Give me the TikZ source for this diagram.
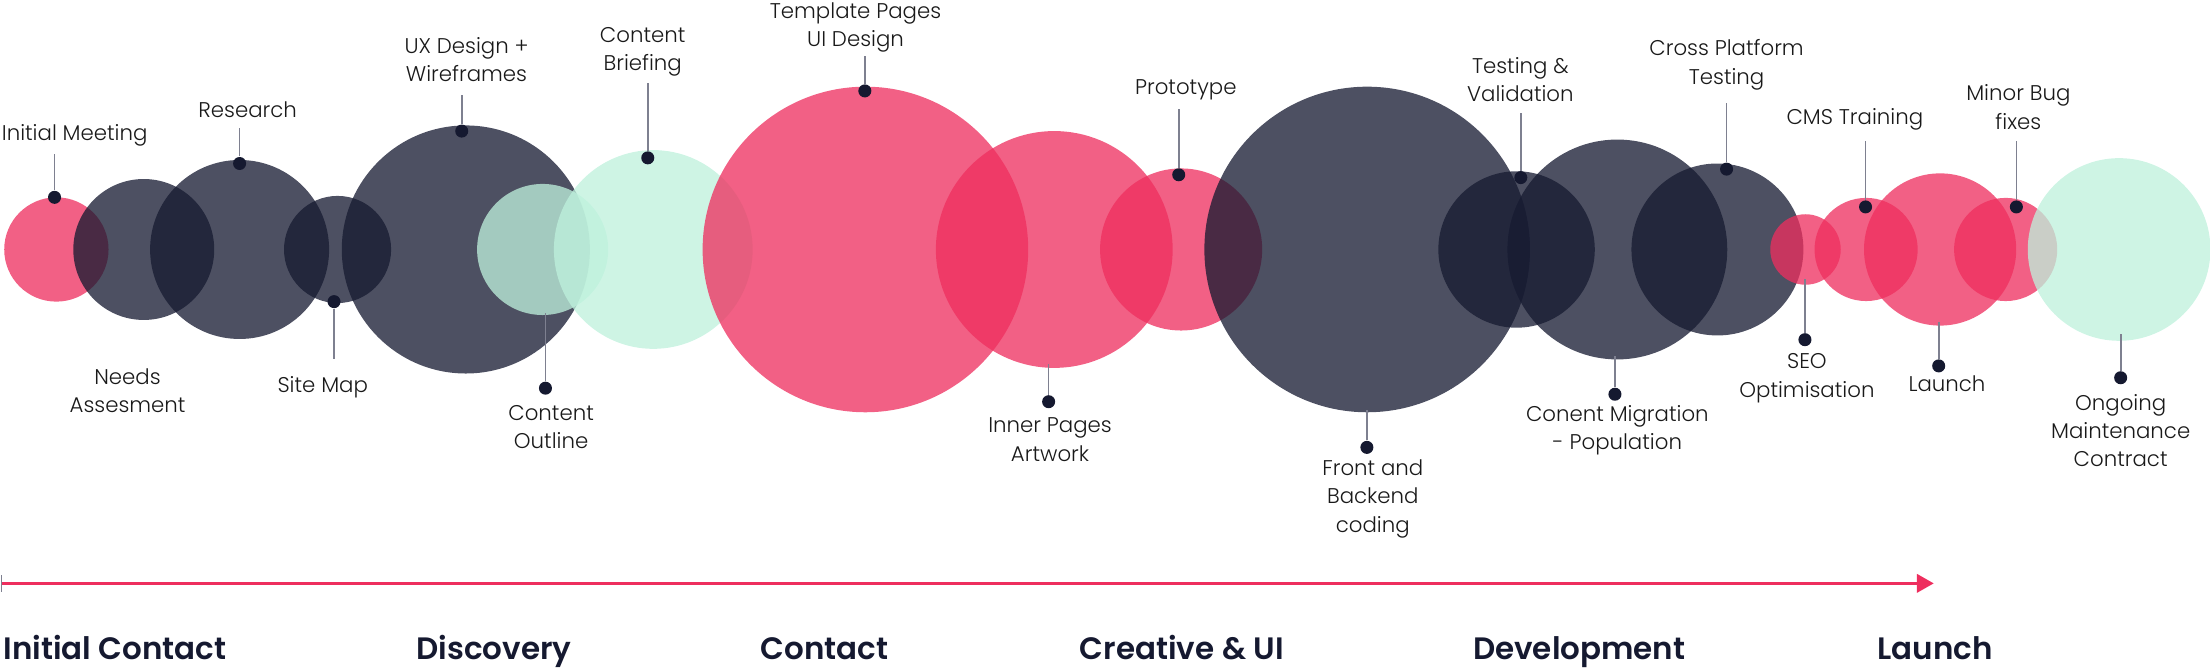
\documentclass[tikz,border=0pt]{standalone}
\usepackage{fontspec}
\setmainfont{Poppins Light}[BoldFont = Poppins SemiBold]
\usetikzlibrary{arrows.meta}

\definecolor{rose}{RGB}{238,46,94}
\definecolor{ink}{RGB}{21,25,48}
\definecolor{mint}{RGB}{190,241,220}
\definecolor{leader}{RGB}{126,128,144}

\begin{document}
\begin{tikzpicture}[x = 0.2mm, y = 0.2mm,
	ball/.style = {circle, inner sep = 0pt, fill opacity = 0.76, minimum size = #1*0.4mm},
	dot/.style = {circle, fill = ink, inner sep = 0pt, minimum size = 1.85mm},
	lead/.style = {draw = leader, line width = 0.68pt},
	lbl/.style = {align = center, text = black!90, font = \fontsize{8.6}{11.4}\selectfont},
	phase/.style = {anchor = base, text = ink, font = \fontsize{12.5}{15}\selectfont\bfseries}]
	\useasboundingbox (0,-298) rectangle (1568,177);

	% the balls, left to right
	\node[ball = 37, fill = rose] (meeting) at (40,0) {};
	\node[ball = 50, fill = ink] (needs) at (102,0) {};
	\node[ball = 63.5, fill = ink] (research) at (170,0) {};
	\node[ball = 38, fill = ink] (sitemap) at (239.5,0) {};
	\node[ball = 88, fill = ink] (ux) at (330.5,0) {};
	\node[ball = 46.5, fill = mint] (outline) at (385,0) {};
	\node[ball = 70.5, fill = mint] (briefing) at (463.5,0) {};
	\node[ball = 115.5, fill = rose] (template) at (614,0) {};
	\node[ball = 84, fill = rose] (inner) at (748,0) {};
	\node[ball = 57.5, fill = rose] (proto) at (838,0) {};
	\node[ball = 115.5, fill = ink] (front) at (970,0) {};
	\node[ball = 55.5, fill = ink] (testing) at (1076,0) {};
	\node[ball = 78, fill = ink] (migration) at (1147.5,0) {};
	\node[ball = 61, fill = ink] (cross) at (1218.5,0) {};
	\node[ball = 25, fill = rose] (seo) at (1281,0) {};
	\node[ball = 36.6, fill = rose] (cms) at (1324,0) {};
	\node[ball = 54, fill = rose] (launch) at (1376.5,0) {};
	\node[ball = 36.6, fill = rose] (bugs) at (1423,0) {};
	\node[ball = 64.8, fill = mint] (ongoing) at (1503.5,0) {};

	% markers above
	\coordinate (tmeeting) at (38.7,68);
	\coordinate (tresearch) at (170,86);
	\coordinate (tux) at (327.6,109.5);
	\coordinate (tbriefing) at (459.6,118);
	\coordinate (ttemplate) at (613.6,137.3);
	\coordinate (tproto) at (836.3,99.6);
	\coordinate (ttesting) at (1079,97);
	\coordinate (tcross) at (1225,104);
	\coordinate (tcms) at (1323.6,77.2);
	\coordinate (tbugs) at (1430.6,77.2);
	% markers below
	\coordinate (tsitemap) at (237,-78);
	\coordinate (toutline) at (387,-45);
	\coordinate (tinner) at (744,-81);
	\coordinate (tfront) at (969.8,-114);
	\coordinate (tmigration) at (1145.8,-75.5);
	\coordinate (tseo) at (1280.6,-20.8);
	\coordinate (tlaunch) at (1375.5,-51.4);
	\coordinate (tongoing) at (1504.6,-60);

	\node[dot] (dmeeting) at (38.7,37) {};
	\node[dot] (dresearch) at (170,61) {};
	\node[dot] (dux) at (327.6,84) {};
	\node[dot] (dbriefing) at (459.6,65) {};
	\node[dot] (dtemplate) at (613.6,112.5) {};
	\node[dot] (dproto) at (836.3,53) {};
	\node[dot] (dtesting) at (1079,51) {};
	\node[dot] (dcross) at (1225,57) {};
	\node[dot] (dcms) at (1323.6,30.2) {};
	\node[dot] (dbugs) at (1430.6,30.2) {};
	\node[dot] (dsitemap) at (237,-37) {};
	\node[dot] (doutline) at (387,-98.4) {};
	\node[dot] (dinner) at (744,-108) {};
	\node[dot] (dfront) at (969.8,-140.4) {};
	\node[dot] (dmigration) at (1145.8,-102.7) {};
	\node[dot] (dseo) at (1280.6,-64) {};
	\node[dot] (dlaunch) at (1375.5,-82.6) {};
	\node[dot] (dongoing) at (1504.6,-91) {};

	\foreach \n in {meeting, research, ux, briefing, template, proto, testing, cross, cms, bugs,
		sitemap, outline, inner, front, migration, seo, launch, ongoing}
		\draw[lead] (d\n) -- (t\n);

	% labels
	\node[lbl] (lmeeting) at (53,81) {Initial Meeting};
	\node[lbl] (lneeds) at (90.5,-100) {Needs\\Assesment};
	\node[lbl] (lresearch) at (175.7,99) {Research};
	\node[lbl] (lsitemap) at (229,-97.5) {Site Map};
	\node[lbl] (lux) at (331,134.5) {UX Design +\\Wireframes};
	\node[lbl] (loutline) at (391,-126) {Content\\Outline};
	\node[lbl] (lbriefing) at (456,140.5) {Content\\Briefing};
	\node[lbl] (ltemplate) at (607,157.6) {Template Pages\\UI Design};
	\node[lbl] (linner) at (745,-135) {Inner Pages\\Artwork};
	\node[lbl] (lproto) at (841.3,113.5) {Prototype};
	\node[lbl] (lfront) at (974,-177) {Front and\\Backend\\coding};
	\node[lbl] (ltesting) at (1078.7,120.6) {Testing \&\\Validation};
	\node[lbl] (lmigration) at (1147.5,-128.4) {Conent Migration\\- Population};
	\node[lbl] (lcross) at (1225,131) {Cross Platform\\Testing};
	\node[lbl] (lseo) at (1282,-91.3) {SEO\\Optimisation};
	\node[lbl] (lcms) at (1316,92.4) {CMS Training};
	\node[lbl] (llaunch) at (1381.4,-95.5) {Launch};
	\node[lbl] (lbugs) at (1432,101.1) {Minor Bug\\fixes};
	\node[lbl] (longoing) at (1504.6,-128.5) {Ongoing\\Maintenance\\Contract};

	% timeline
	\coordinate (tlstart) at (1,-236.9);
	\coordinate (tlend) at (1372,-236.9);
	\draw[rose, line width = 0.42mm, {Bar[width = 2.4mm, line width = 0.3pt, color = leader]}-{Triangle[length = 2.4mm, width = 2.6mm]}] (tlstart) -- (tlend);
	\node[phase] (pcontact) at (81.5,-290.8) {Initial Contact};
	\node[phase] (pdiscovery) at (350.5,-290.8) {Discovery};
	\node[phase] (pcontact2) at (585,-290.8) {Contact};
	\node[phase] (pcreative) at (838.5,-290.8) {Creative \& UI};
	\node[phase] (pdevelop) at (1120.5,-290.8) {Development};
	\node[phase] (plaunch) at (1373,-290.8) {Launch};
\end{tikzpicture}
\end{document}
